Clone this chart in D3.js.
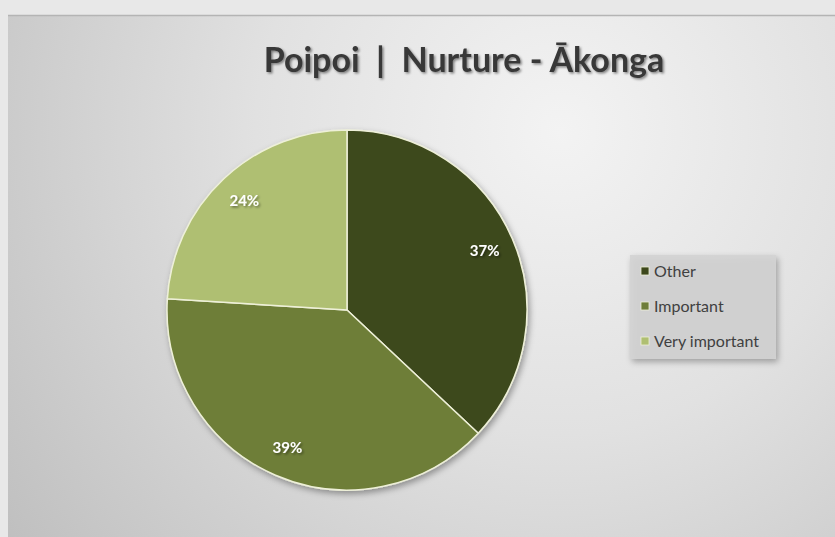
<!DOCTYPE html>
<html>
<head>
<meta charset="utf-8">
<script src="https://cdn.jsdelivr.net/npm/d3@7"></script>
<style>
  html, body { margin: 0; padding: 0; background: #e8e8e8; }
  svg { display: block; }
</style>
</head>
<body>
<div id="chart"></div>
<script>
// data
const categories = ["Other", "Important", "Very important"];
const values = [37, 39, 24];
const colours = ["#3d481c", "#6e7e38", "#afbf72"];
const title = "Poipoi  |  Nurture - Ākonga";

const width = 835, height = 537;
let svg = d3.select("#chart").append("svg")
	.attr("width", width)
	.attr("height", height);

let defs = svg.append("defs");
let bg = defs.append("radialGradient")
	.attr("id", "bg")
	.attr("gradientUnits", "userSpaceOnUse")
	.attr("cx", 560).attr("cy", 130).attr("r", 760);
bg.append("stop").attr("offset", "0%").attr("stop-color", "#f3f3f3");
bg.append("stop").attr("offset", "40%").attr("stop-color", "#e1e1e1");
bg.append("stop").attr("offset", "100%").attr("stop-color", "#b9b9b9");

let shadow = defs.append("filter").attr("id", "shadow")
	.attr("x", "-20%").attr("y", "-20%").attr("width", "140%").attr("height", "140%");
shadow.append("feDropShadow")
	.attr("dx", 2).attr("dy", 3).attr("stdDeviation", 3)
	.attr("flood-color", "#000").attr("flood-opacity", .35);

let textShadow = defs.append("filter").attr("id", "tshadow");
textShadow.append("feDropShadow")
	.attr("dx", 1.5).attr("dy", 1.5).attr("stdDeviation", 1)
	.attr("flood-color", "#000").attr("flood-opacity", .45);

// chart area
svg.append("rect")
	.attr("x", 8).attr("y", 15)
	.attr("width", width - 8).attr("height", height - 15)
	.attr("fill", "url(#bg)");
svg.append("line")
	.attr("x1", 8).attr("x2", width).attr("y1", 15.5).attr("y2", 15.5)
	.attr("stroke", "#b4b4b4").attr("stroke-width", 1.5);

// title
svg.append("text")
	.attr("x", 464).attr("y", 72)
	.attr("text-anchor", "middle")
	.attr("font-family", "Lato, 'Open Sans', sans-serif")
	.attr("font-weight", "bold")
	.attr("font-size", 34)
	.attr("fill", "#383838")
	.attr("filter", "url(#tshadow)")
	.attr("xml:space", "preserve")
	.text(title);

// pie
const cx = 347, cy = 310, r = 180;
let pie = d3.pie().sort(null).value(d => d)(values);
let arc = d3.arc().innerRadius(0).outerRadius(r);
let labelArc = d3.arc().innerRadius(150).outerRadius(150);

let g = svg.append("g").attr("transform", `translate(${cx},${cy})`);
g.append("g")
	.attr("filter", "url(#shadow)")
	.selectAll("path")
	.data(pie)
	.join("path")
	.attr("d", arc)
	.attr("fill", (d, i) => colours[i])
	.attr("stroke", "#eef0d8")
	.attr("stroke-width", 1.5)
	.attr("stroke-linejoin", "round");

g.selectAll("text.lbl")
	.data(pie)
	.join("text")
	.attr("class", "lbl")
	.attr("transform", d => `translate(${labelArc.centroid(d)})`)
	.attr("text-anchor", "middle")
	.attr("dy", "0.35em")
	.attr("font-family", "Lato, 'Open Sans', sans-serif")
	.attr("font-weight", "bold")
	.attr("font-size", 15)
	.attr("fill", "#ffffff")
	.attr("filter", "url(#tshadow)")
	.text(d => d.value + "%");

// legend
let legend = svg.append("g").attr("transform", "translate(630,255)");
legend.append("rect")
	.attr("width", 146).attr("height", 104)
	.attr("fill", "#d2d2d2")
	.attr("fill-opacity", .85)
	.attr("filter", "url(#shadow)");
let item = legend.selectAll("g.item")
	.data(categories)
	.join("g")
	.attr("class", "item")
	.attr("transform", (d, i) => `translate(0,${16 + i * 35})`);
item.append("rect")
	.attr("x", 11).attr("y", -4)
	.attr("width", 8).attr("height", 8)
	.attr("fill", (d, i) => colours[i])
	.attr("stroke", "#eef0d8")
	.attr("stroke-width", 0.8);
item.append("text")
	.attr("x", 24)
	.attr("dy", "0.35em")
	.attr("font-family", "Lato, 'Open Sans', sans-serif")
	.attr("font-size", 16)
	.attr("fill", "#404040")
	.text(d => d);
</script>
</body>
</html>
